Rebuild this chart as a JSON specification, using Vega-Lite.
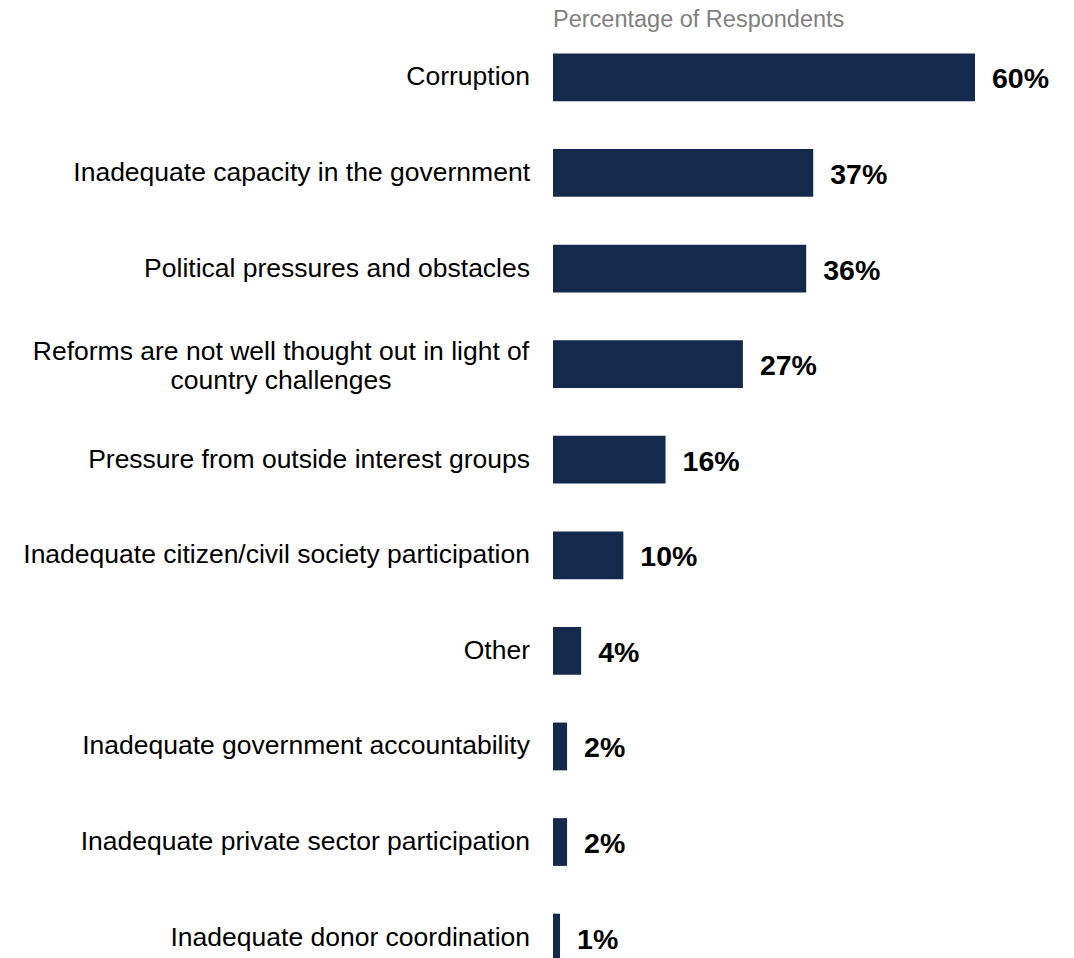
{
  "$schema": "https://vega.github.io/schema/vega-lite/v6.json",
  "width": 422,
  "height": 904,
  "autosize": {"type": "none"},
  "padding": {"left": 553, "top": 53.5, "right": 99, "bottom": 0},
  "title": {
    "text": "Percentage of Respondents",
    "anchor": "start",
    "frame": "group",
    "baseline": "alphabetic",
    "offset": 3,
    "font": "Liberation Sans",
    "fontSize": 23.5,
    "fontWeight": "normal",
    "color": "#808080"
  },
  "data": {
    "values": [
      {"reason": "Corruption", "pct": 60, "label": "60%"},
      {"reason": "Inadequate capacity in the government", "pct": 37, "label": "37%"},
      {"reason": "Political pressures and obstacles", "pct": 36, "label": "36%"},
      {"reason": "Reforms are not well thought out in light of country challenges", "pct": 27, "label": "27%"},
      {"reason": "Pressure from outside interest groups", "pct": 16, "label": "16%"},
      {"reason": "Inadequate citizen/civil society participation", "pct": 10, "label": "10%"},
      {"reason": "Other", "pct": 4, "label": "4%"},
      {"reason": "Inadequate government accountability", "pct": 2, "label": "2%"},
      {"reason": "Inadequate private sector participation", "pct": 2, "label": "2%"},
      {"reason": "Inadequate donor coordination", "pct": 1, "label": "1%"}
    ]
  },
  "encoding": {
    "y": {
      "field": "reason",
      "type": "nominal",
      "sort": null,
      "scale": {"range": [0, 908], "paddingInner": 0.5, "paddingOuter": 0},
      "axis": null
    }
  },
  "layer": [
    {
      "mark": {"type": "bar", "color": "#142a4c"},
      "encoding": {
        "x": {
          "field": "pct",
          "type": "quantitative",
          "scale": {"domain": [0, 60], "nice": false},
          "axis": null
        }
      }
    },
    {
      "mark": {
        "type": "text",
        "align": "left",
        "baseline": "middle",
        "dx": 17,
        "dy": 2,
        "font": "Liberation Sans",
        "fontSize": 28.5,
        "fontWeight": "bold",
        "color": "#000000"
      },
      "encoding": {
        "x": {"field": "pct", "type": "quantitative"},
        "text": {"field": "label"}
      }
    },
    {
      "transform": [{"filter": "datum.reason != 'Reforms are not well thought out in light of country challenges'"}],
      "mark": {
        "type": "text",
        "align": "right",
        "baseline": "middle",
        "dx": -23,
        "font": "Liberation Sans",
        "fontSize": 26.5,
        "color": "#000000"
      },
      "encoding": {
        "x": {"datum": 0, "type": "quantitative"},
        "text": {"field": "reason"}
      }
    },
    {
      "transform": [{"filter": "datum.reason == 'Reforms are not well thought out in light of country challenges'"}],
      "mark": {
        "type": "text",
        "align": "center",
        "baseline": "middle",
        "dx": -272,
        "dy": -12,
        "lineHeight": 29,
        "font": "Liberation Sans",
        "fontSize": 26.5,
        "color": "#000000"
      },
      "encoding": {
        "x": {"datum": 0, "type": "quantitative"},
        "text": {"value": ["Reforms are not well thought out in light of", "country challenges"]}
      }
    }
  ],
  "config": {"view": {"stroke": null}}
}
